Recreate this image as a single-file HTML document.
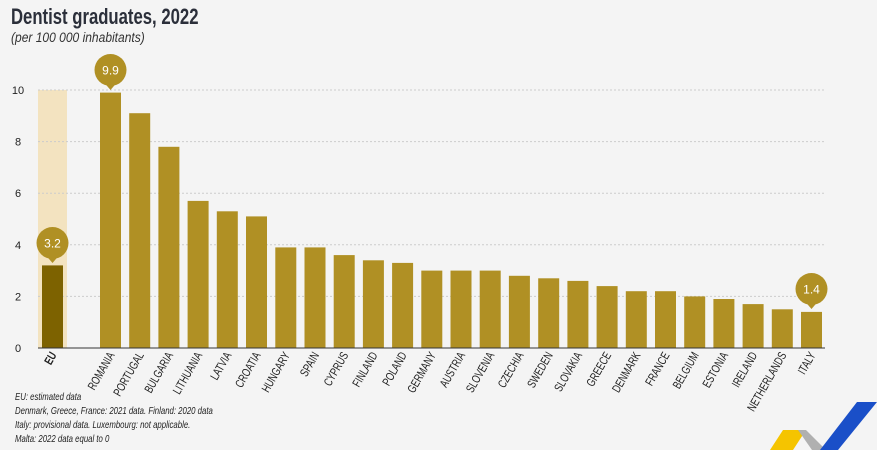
<!DOCTYPE html>
<html><head><meta charset="utf-8"><style>
html,body{margin:0;padding:0;background:#fff}
svg{display:block}
text{font-family:"Liberation Sans Narrow","Liberation Sans",sans-serif}
</style></head><body>
<svg width="888" height="450" viewBox="0 0 888 450" xmlns="http://www.w3.org/2000/svg">
<rect x="0" y="0" width="877" height="450" fill="#f4f4f4"/>
<text transform="translate(11,24) scale(0.76,1)" font-size="22" font-weight="bold" fill="#2b2f3a">Dentist graduates, 2022</text>
<text transform="translate(11,42) scale(0.86,1)" font-size="14" font-style="italic" fill="#333">(per 100 000 inhabitants)</text>
<rect x="38" y="90" width="29" height="258" fill="#f3e3c0"/>
<g stroke="#ccc" stroke-dasharray="2,2" stroke-width="1">
<line x1="38" x2="825" y1="90" y2="90"/><line x1="38" x2="825" y1="141.6" y2="141.6"/>
<line x1="38" x2="825" y1="193.2" y2="193.2"/><line x1="38" x2="825" y1="244.8" y2="244.8"/>
<line x1="38" x2="825" y1="296.4" y2="296.4"/>
</g>
<g font-size="11" fill="#222" text-anchor="middle">
<text x="18" y="94">10</text><text x="18" y="145.6">8</text><text x="18" y="197.2">6</text>
<text x="18" y="248.8">4</text><text x="18" y="300.4">2</text><text x="18" y="352">0</text>
</g>
<rect x="42" y="265.4" width="21" height="82.6" fill="#7d6200"/>
<g fill="#b09024">
<rect x="100" y="92.6" width="21" height="255.4"/>
<rect x="129.2" y="113.2" width="21" height="234.8"/>
<rect x="158.4" y="146.8" width="21" height="201.2"/>
<rect x="187.6" y="200.9" width="21" height="147.1"/>
<rect x="216.8" y="211.3" width="21" height="136.7"/>
<rect x="246" y="216.4" width="21" height="131.6"/>
<rect x="275.3" y="247.4" width="21" height="100.6"/>
<rect x="304.5" y="247.4" width="21" height="100.6"/>
<rect x="333.7" y="255.1" width="21" height="92.9"/>
<rect x="362.9" y="260.3" width="21" height="87.7"/>
<rect x="392.1" y="262.9" width="21" height="85.1"/>
<rect x="421.3" y="270.6" width="21" height="77.4"/>
<rect x="450.5" y="270.6" width="21" height="77.4"/>
<rect x="479.7" y="270.6" width="21" height="77.4"/>
<rect x="508.9" y="275.8" width="21" height="72.2"/>
<rect x="538.2" y="278.3" width="21" height="69.7"/>
<rect x="567.4" y="280.9" width="21" height="67.1"/>
<rect x="596.6" y="286.1" width="21" height="61.9"/>
<rect x="625.8" y="291.2" width="21" height="56.8"/>
<rect x="655" y="291.2" width="21" height="56.8"/>
<rect x="684.2" y="296.4" width="21" height="51.6"/>
<rect x="713.4" y="299" width="21" height="49"/>
<rect x="742.6" y="304.1" width="21" height="43.9"/>
<rect x="771.8" y="309.3" width="21" height="38.7"/>
<rect x="801" y="311.9" width="21" height="36.1"/>
</g>
<line x1="38" x2="825" y1="348" y2="348" stroke="#333" stroke-width="1"/>
<g fill="#b09024">
<circle cx="110.5" cy="70" r="16"/><path d="M104.5 83 L110.5 90 L116.5 83Z"/>
<circle cx="52.5" cy="243" r="16"/><path d="M46.5 256 L52.5 263 L58.5 256Z"/>
<circle cx="811.5" cy="289" r="16"/><path d="M805.5 302 L811.5 309 L817.5 302Z"/>
</g>
<g font-size="12" fill="#fff" text-anchor="middle">
<text x="110.5" y="74.5">9.9</text><text x="52.5" y="247.5">3.2</text><text x="811.5" y="293.5">1.4</text>
</g>
<g font-size="12" fill="#222" text-anchor="end">
<text transform="translate(57,355) rotate(-60) scale(0.74,1)" font-weight="bold">EU</text>
<text transform="translate(115,355) rotate(-60) scale(0.74,1)">ROMANIA</text>
<text transform="translate(144.2,355) rotate(-60) scale(0.74,1)">PORTUGAL</text>
<text transform="translate(173.4,355) rotate(-60) scale(0.74,1)">BULGARIA</text>
<text transform="translate(202.6,355) rotate(-60) scale(0.74,1)">LITHUANIA</text>
<text transform="translate(231.8,355) rotate(-60) scale(0.74,1)">LATVIA</text>
<text transform="translate(261,355) rotate(-60) scale(0.74,1)">CROATIA</text>
<text transform="translate(290.3,355) rotate(-60) scale(0.74,1)">HUNGARY</text>
<text transform="translate(319.5,355) rotate(-60) scale(0.74,1)">SPAIN</text>
<text transform="translate(348.7,355) rotate(-60) scale(0.74,1)">CYPRUS</text>
<text transform="translate(377.9,355) rotate(-60) scale(0.74,1)">FINLAND</text>
<text transform="translate(407.1,355) rotate(-60) scale(0.74,1)">POLAND</text>
<text transform="translate(436.3,355) rotate(-60) scale(0.74,1)">GERMANY</text>
<text transform="translate(465.5,355) rotate(-60) scale(0.74,1)">AUSTRIA</text>
<text transform="translate(494.7,355) rotate(-60) scale(0.74,1)">SLOVENIA</text>
<text transform="translate(523.9,355) rotate(-60) scale(0.74,1)">CZECHIA</text>
<text transform="translate(553.2,355) rotate(-60) scale(0.74,1)">SWEDEN</text>
<text transform="translate(582.4,355) rotate(-60) scale(0.74,1)">SLOVAKIA</text>
<text transform="translate(611.6,355) rotate(-60) scale(0.74,1)">GREECE</text>
<text transform="translate(640.8,355) rotate(-60) scale(0.74,1)">DENMARK</text>
<text transform="translate(670,355) rotate(-60) scale(0.74,1)">FRANCE</text>
<text transform="translate(699.2,355) rotate(-60) scale(0.74,1)">BELGIUM</text>
<text transform="translate(728.4,355) rotate(-60) scale(0.74,1)">ESTONIA</text>
<text transform="translate(757.6,355) rotate(-60) scale(0.74,1)">IRELAND</text>
<text transform="translate(786.8,355) rotate(-60) scale(0.74,1)">NETHERLANDS</text>
<text transform="translate(816,355) rotate(-60) scale(0.74,1)">ITALY</text>
</g>
<g font-size="10" font-style="italic" fill="#222">
<text transform="translate(15,400) scale(0.78,1)">EU: estimated data</text>
<text transform="translate(15,414) scale(0.78,1)">Denmark, Greece, France: 2021 data. Finland: 2020 data</text>
<text transform="translate(15,428) scale(0.78,1)">Italy: provisional data. Luxembourg: not applicable.</text>
<text transform="translate(15,442) scale(0.78,1)">Malta: 2022 data equal to 0</text>
</g>
<path d="M770 450 L783 430 L806 430 L793 450Z" fill="#f5c400"/>
<path d="M798 430 L806 430 L826 450 L812 450Z" fill="#b0b0b0"/>
<path d="M820 450 L857 402 L877 402 L838 450Z" fill="#1a4fc8"/>
</svg>
</body></html>
